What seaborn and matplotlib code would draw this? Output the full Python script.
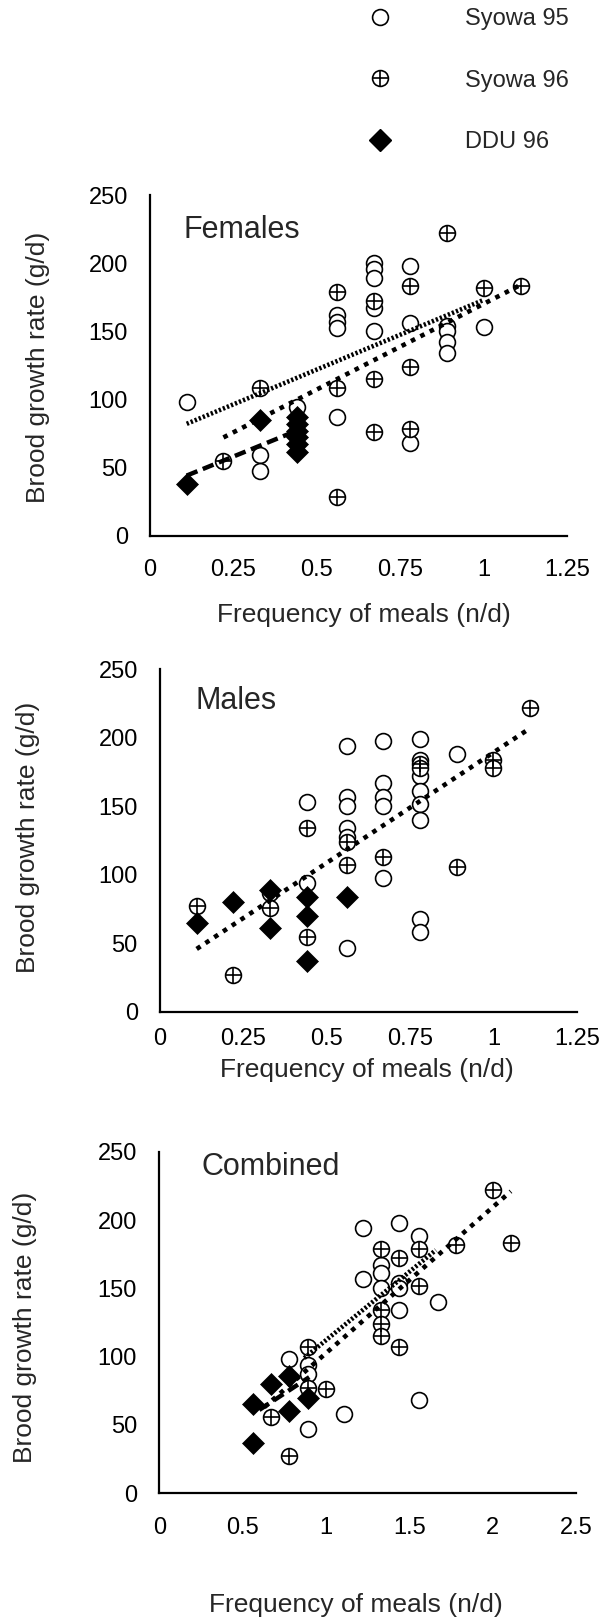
import matplotlib
matplotlib.use("Agg")
import matplotlib.pyplot as plt
import seaborn as sns
from matplotlib.lines import Line2D
from matplotlib.legend_handler import HandlerTuple

sns.set_style("white")
plt.rcParams["font.family"] = ["Liberation Sans", "DejaVu Sans"]

# ---------------- data ----------------
series_labels = ["Syowa 95", "Syowa 96", "DDU 96"]
panel_titles = ["Females", "Males", "Combined"]
x_label = "Frequency of meals (n/d)"
y_label = "Brood growth rate (g/d)"
y_ticks = [0, 50, 100, 150, 200, 250]
x_ticks_single = [0, 0.25, 0.5, 0.75, 1, 1.25]
x_ticklabels_single = ["0", "0.25", "0.5", "0.75", "1", "1.25"]
x_ticks_comb = [0, 0.5, 1, 1.5, 2, 2.5]
x_ticklabels_comb = ["0", "0.5", "1", "1.5", "2", "2.5"]

# Females
fem_s95_x = [0.11, 0.33, 0.33, 0.44, 0.56, 0.56, 0.56, 0.56, 0.67, 0.67, 0.67, 0.67, 0.67,
             0.78, 0.78, 0.78, 0.89, 0.89, 0.89, 0.89, 1.0]
fem_s95_y = [98, 59, 47, 94, 162, 157, 152, 87, 200, 196, 189, 167, 150,
             198, 156, 68, 154, 150, 142, 134, 153]
fem_s96_x = [0.22, 0.33, 0.56, 0.56, 0.56, 0.67, 0.67, 0.67, 0.78, 0.78, 0.78, 0.89, 1.0, 1.11]
fem_s96_y = [55, 108, 179, 108, 28, 172, 115, 76, 183, 124, 78, 222, 182, 183]
fem_ddu_x = [0.11, 0.33, 0.44, 0.44, 0.44, 0.44, 0.44, 0.44]
fem_ddu_y = [38, 85, 87, 82, 77, 72, 67, 61]
fem_fit_s95_x = [0.11, 1.0]
fem_fit_s95_y = [82, 173]
fem_fit_s96_x = [0.22, 1.11]
fem_fit_s96_y = [72, 184]
fem_fit_ddu_x = [0.11, 0.44]
fem_fit_ddu_y = [44, 77]

# Males
mal_s95_x = [0.33, 0.44, 0.44, 0.56, 0.56, 0.56, 0.56, 0.56, 0.56, 0.67, 0.67, 0.67, 0.67, 0.67,
             0.78, 0.78, 0.78, 0.78, 0.78, 0.78, 0.78, 0.78, 0.89]
mal_s95_y = [87, 153, 94, 194, 157, 150, 134, 128, 47, 198, 167, 157, 150, 98,
             199, 184, 172, 161, 152, 140, 68, 58, 188]
mal_s96_x = [0.11, 0.22, 0.33, 0.44, 0.44, 0.56, 0.56, 0.67, 0.78, 0.78, 0.89, 1.0, 1.0, 1.11]
mal_s96_y = [77, 27, 76, 134, 55, 124, 107, 113, 181, 178, 106, 184, 178, 222]
mal_ddu_x = [0.11, 0.22, 0.33, 0.33, 0.44, 0.44, 0.44, 0.56]
mal_ddu_y = [65, 80, 89, 61, 84, 70, 37, 84]
mal_fit_x = [0.11, 1.11]
mal_fit_y = [46, 207]

# Combined
com_s95_x = [0.78, 0.89, 0.89, 0.89, 1.11, 1.22, 1.22, 1.33, 1.33, 1.33, 1.44, 1.44, 1.44,
             1.44, 1.56, 1.56, 1.67]
com_s95_y = [98, 94, 87, 47, 58, 194, 157, 167, 161, 150, 198, 154, 150, 134, 188, 68, 140]
com_s96_x = [0.67, 0.78, 0.89, 0.89, 1.0, 1.33, 1.33, 1.33, 1.33, 1.44, 1.44, 1.56, 1.56,
             1.78, 2.0, 2.11]
com_s96_y = [56, 27, 107, 77, 76, 179, 134, 124, 115, 172, 107, 179, 152, 182, 222, 183]
com_ddu_x = [0.56, 0.56, 0.67, 0.78, 0.78, 0.89]
com_ddu_y = [65, 37, 80, 86, 60, 70]
com_fit_s95_x = [0.87, 1.66]
com_fit_s95_y = [99, 178]
com_fit_s96_x = [0.63, 2.11]
com_fit_s96_y = [63, 221]
com_fit_ddu_x = [0.6, 0.9]
com_fit_ddu_y = [61, 85]

# ---------------- styling ----------------
W, H = 604, 1621
fig = plt.figure(figsize=(W / 100, H / 100), dpi=100)

def px_axes(left, right, top, bottom):
    return fig.add_axes([left / W, 1 - bottom / H, (right - left) / W, (bottom - top) / H])

ax1 = px_axes(150, 567.3, 195, 535.5)
ax2 = px_axes(160, 576.7, 669.3, 1012)
ax3 = px_axes(159.3, 575.8, 1151.7, 1493.3)

MS = 130
MSD = 125
EW = 1.2
LS_FINE = dict(lw=3.3, linestyle=(0, (0.5, 0.45)))
LS_COARSE = dict(lw=3.3, linestyle=(0, (1.0, 1.3)))
LS_DASH = dict(lw=3.2, linestyle=(0, (2.6, 1.3)))


def scatter_groups(ax, s95x, s95y, s96x, s96y, ddux, dduy):
    sns.scatterplot(x=s95x, y=s95y, marker="o", s=MS, facecolor="white",
                    edgecolor="black", linewidth=EW, ax=ax, legend=False, zorder=3)
    sns.scatterplot(x=s96x, y=s96y, marker="o", s=MS, facecolor="white",
                    edgecolor="black", linewidth=EW, ax=ax, legend=False, zorder=3)
    sns.scatterplot(x=s96x, y=s96y, marker="+", s=MS, color="black",
                    linewidth=EW, ax=ax, legend=False, zorder=4)
    sns.scatterplot(x=ddux, y=dduy, marker="D", s=MSD, color="black",
                    edgecolor="black", linewidth=0.5, ax=ax, legend=False, zorder=3)


def fit_line(ax, fx, fy, style):
    sns.lineplot(x=fx, y=fy, ax=ax, color="black", estimator=None, sort=False,
                 zorder=5, solid_capstyle="butt", dash_capstyle="butt", **style)


def style_axes(ax, xmax, xt, xtl, xpad, title, tx, ty, xl_pos, yl_pos):
    ax.set_xlim(0, xmax)
    ax.set_ylim(0, 250)
    ax.set_xticks(xt)
    ax.set_xticklabels(xtl)
    ax.set_yticks(y_ticks)
    ax.set_yticklabels([str(v) for v in y_ticks])
    for s in ["top", "right"]:
        ax.spines[s].set_visible(False)
    for s in ["left", "bottom"]:
        ax.spines[s].set_linewidth(1.6)
        ax.spines[s].set_color("black")
    ax.tick_params(axis="both", direction="in", length=6, width=1.1, labelsize=17,
                   colors="black")
    ax.tick_params(axis="x", pad=xpad)
    ax.tick_params(axis="y", pad=16)
    ax.set_xlabel(x_label, fontsize=19)
    ax.set_ylabel(y_label, fontsize=19)
    ax.xaxis.label.set_va("center")
    ax.yaxis.label.set_va("center")
    ax.xaxis.set_label_coords(*xl_pos)
    ax.yaxis.set_label_coords(*yl_pos)
    ax.text(tx, ty, title, fontsize=22, ha="left", va="center")
    ax.set_facecolor("white")


# Panel 1: Females
scatter_groups(ax1, fem_s95_x, fem_s95_y, fem_s96_x, fem_s96_y, fem_ddu_x, fem_ddu_y)
fit_line(ax1, fem_fit_s95_x, fem_fit_s95_y, LS_FINE)
fit_line(ax1, fem_fit_s96_x, fem_fit_s96_y, LS_COARSE)
fit_line(ax1, fem_fit_ddu_x, fem_fit_ddu_y, LS_DASH)
style_axes(ax1, 1.25, x_ticks_single, x_ticklabels_single, 17, panel_titles[0], 0.1, 224,
           (0.513, -0.233), (-0.268, 0.493))

# Panel 2: Males
scatter_groups(ax2, mal_s95_x, mal_s95_y, mal_s96_x, mal_s96_y, mal_ddu_x, mal_ddu_y)
fit_line(ax2, mal_fit_x, mal_fit_y, LS_COARSE)
style_axes(ax2, 1.25, x_ticks_single, x_ticklabels_single, 11.5, panel_titles[1], 0.105, 227,
           (0.496, -0.169), (-0.316, 0.509))

# Panel 3: Combined
scatter_groups(ax3, com_s95_x, com_s95_y, com_s96_x, com_s96_y, com_ddu_x, com_ddu_y)
fit_line(ax3, com_fit_s95_x, com_fit_s95_y, LS_FINE)
fit_line(ax3, com_fit_s96_x, com_fit_s96_y, LS_COARSE)
fit_line(ax3, com_fit_ddu_x, com_fit_ddu_y, LS_DASH)
style_axes(ax3, 2.5, x_ticks_comb, x_ticklabels_comb, 17, panel_titles[2], 0.254, 239,
           (0.472, -0.327), (-0.322, 0.487))

# Legend
ms_pt = MS ** 0.5
h95 = Line2D([], [], ls="none", marker="o", ms=ms_pt, mfc="white", mec="black", mew=EW)
h96 = (Line2D([], [], ls="none", marker="o", ms=ms_pt, mfc="white", mec="black", mew=EW),
       Line2D([], [], ls="none", marker="+", ms=ms_pt, mec="black", mew=EW))
hddu = Line2D([], [], ls="none", marker="D", ms=MSD ** 0.5, mfc="black", mec="black")
fig.legend([h95, h96, hddu], series_labels,
           handler_map={tuple: HandlerTuple(ndivide=1, pad=0)},
           loc="upper left", bbox_to_anchor=(368 / W, 1 - 8 / H), frameon=False,
           fontsize=17, labelspacing=1.68, handlelength=1.0, handletextpad=3.1,
           borderpad=0, borderaxespad=0)

fig.savefig("out.png", dpi=100, facecolor="white")
